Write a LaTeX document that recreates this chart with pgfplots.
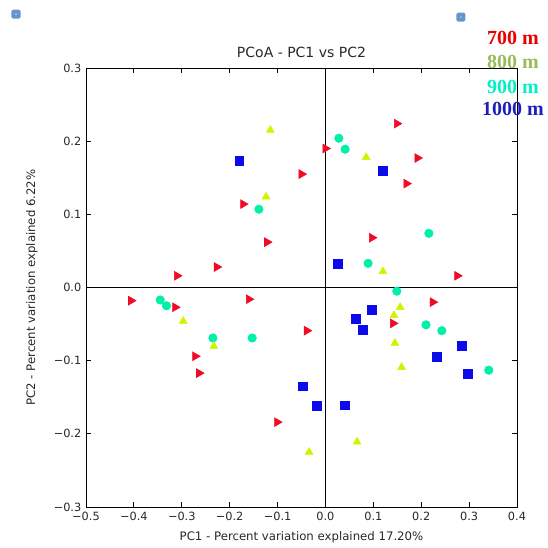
\documentclass[border=0pt]{standalone}
\usepackage{pgfplots}
\pgfplotsset{compat=1.18}
\usepackage{fontspec}
\setmainfont{DejaVu Sans}
\newfontfamily\legfont{Liberation Serif}
\definecolor{c700}{RGB}{240,10,40}
\definecolor{c800}{RGB}{205,245,0}
\definecolor{c900}{RGB}{0,240,170}
\definecolor{c1000}{RGB}{10,10,235}
\definecolor{l700}{RGB}{235,0,0}
\definecolor{l800}{RGB}{155,187,89}
\definecolor{l900}{RGB}{0,240,200}
\definecolor{l1000}{RGB}{30,30,190}
\definecolor{icon}{RGB}{100,150,205}
\definecolor{txt}{RGB}{40,40,40}
\begin{document}
\begin{tikzpicture}
\path[use as bounding box] (0,0) rectangle (410.25pt,411pt);
\begin{axis}[
  at={(64.5pt,30.75pt)}, anchor=south west,
  scale only axis, width=323.25pt, height=329.25pt,
  xmin=-0.5, xmax=0.4, ymin=-0.3, ymax=0.3,
  xtick={-0.5,-0.4,-0.3,-0.2,-0.1,0,0.1,0.2,0.3,0.4},
  xticklabels={−0.5,−0.4,−0.3,−0.2,−0.1,0.0,0.1,0.2,0.3,0.4},
  ytick={-0.3,-0.2,-0.1,0,0.1,0.2,0.3},
  yticklabels={−0.3,−0.2,−0.1,0.0,0.1,0.2,0.3},
  tick align=inside,
  major tick length=4pt,
  tick style={black, line width=0.6pt},
  axis line style={black, line width=0.7pt},
  ticklabel style={font=\fontsize{8.5}{10}\selectfont, text=txt},
  xticklabel style={yshift=-0.5pt},
  title={PCoA - PC1 vs PC2},
  title style={at={(0.5,1)}, anchor=center, yshift=6pt, font=\fontsize{10.5}{12}\selectfont, text=txt},
  xlabel={PC1 - Percent variation explained 17.20\%},
  xlabel style={at={(0.5,0)}, anchor=center, yshift=-23pt, font=\fontsize{8.8}{10}\selectfont, text=txt},
  ylabel={PC2 - Percent variation explained 6.22\%},
  ylabel style={at={(0,0.5)}, anchor=center, yshift=40.5pt, font=\fontsize{8.8}{10}\selectfont, text=txt},
  clip=false,
]
\draw[black, line width=0.7pt] (axis cs:0,-0.3) -- (axis cs:0,0.3);
\draw[black, line width=0.7pt] (axis cs:-0.5,0) -- (axis cs:0.4,0);
% 900 m
\addplot[only marks, mark=*, mark size=3.2pt, color=c900, mark options={draw=c900, fill=c900}] coordinates {
(-0.139,0.107) (0.028,0.204) (0.041,0.189) (0.216,0.074) (0.089,0.033)
(0.149,-0.005) (-0.345,-0.017) (-0.332,-0.025) (-0.235,-0.069) (-0.153,-0.069)
(0.210,-0.051) (0.243,-0.059) (0.341,-0.113)
};
% 1000 m
\addplot[only marks, mark=square*, mark size=3.3pt, color=c1000, mark options={draw=c1000, fill=c1000}] coordinates {
(-0.180,0.173) (0.120,0.159) (0.026,0.032) (0.097,-0.030) (0.063,-0.043)
(0.078,-0.058) (0.285,-0.080) (0.233,-0.095) (0.298,-0.118) (0.041,-0.161)
(-0.047,-0.135) (-0.018,-0.162)
};
% 800 m
\addplot[only marks, mark=triangle*, mark size=3.4pt, color=c800, mark options={draw=c800, fill=c800}] coordinates {
(-0.115,0.215) (-0.124,0.124) (0.085,0.178) (0.120,0.022) (-0.297,-0.046)
(-0.233,-0.080) (-0.034,-0.225) (0.143,-0.038) (0.156,-0.027) (0.145,-0.076)
(0.159,-0.109) (0.066,-0.211)
};
% 700 m
\addplot[only marks, mark=triangle*, mark size=3.8pt, color=c700, mark options={draw=c700, fill=c700, rotate=-90}] coordinates {
(0.149,0.224) (0.000,0.190) (-0.050,0.155) (0.192,0.177) (0.169,0.142)
(-0.172,0.114) (-0.122,0.062) (0.097,0.068) (-0.227,0.028) (-0.310,0.016)
(0.275,0.016) (-0.406,-0.018) (-0.160,-0.016) (-0.314,-0.027) (0.224,-0.020)
(0.141,-0.049) (-0.039,-0.059) (-0.272,-0.094) (-0.264,-0.117) (-0.101,-0.184)
};
\end{axis}
\fill[icon, rounded corners=1.2pt] (8.6pt,397pt) rectangle (15.4pt,403.8pt);
\fill[white] (12pt,400.4pt) circle (0.5pt);
\fill[icon, rounded corners=1.2pt] (342.3pt,394.8pt) rectangle (349.1pt,401.6pt);
\fill[white] (345.7pt,398.2pt) circle (0.5pt);
\begin{scope}[every node/.style={anchor=center, font=\legfont\bfseries\fontsize{15}{17}\selectfont}]
\node[text=l700] at (384.75pt,382.5pt) {700 m};
\node[text=l800] at (384.75pt,364.5pt) {800 m};
\node[text=l900] at (384.75pt,345.75pt) {900 m};
\node[text=l1000] at (384.75pt,329.25pt) {1000 m};
\end{scope}
\end{tikzpicture}
\end{document}
